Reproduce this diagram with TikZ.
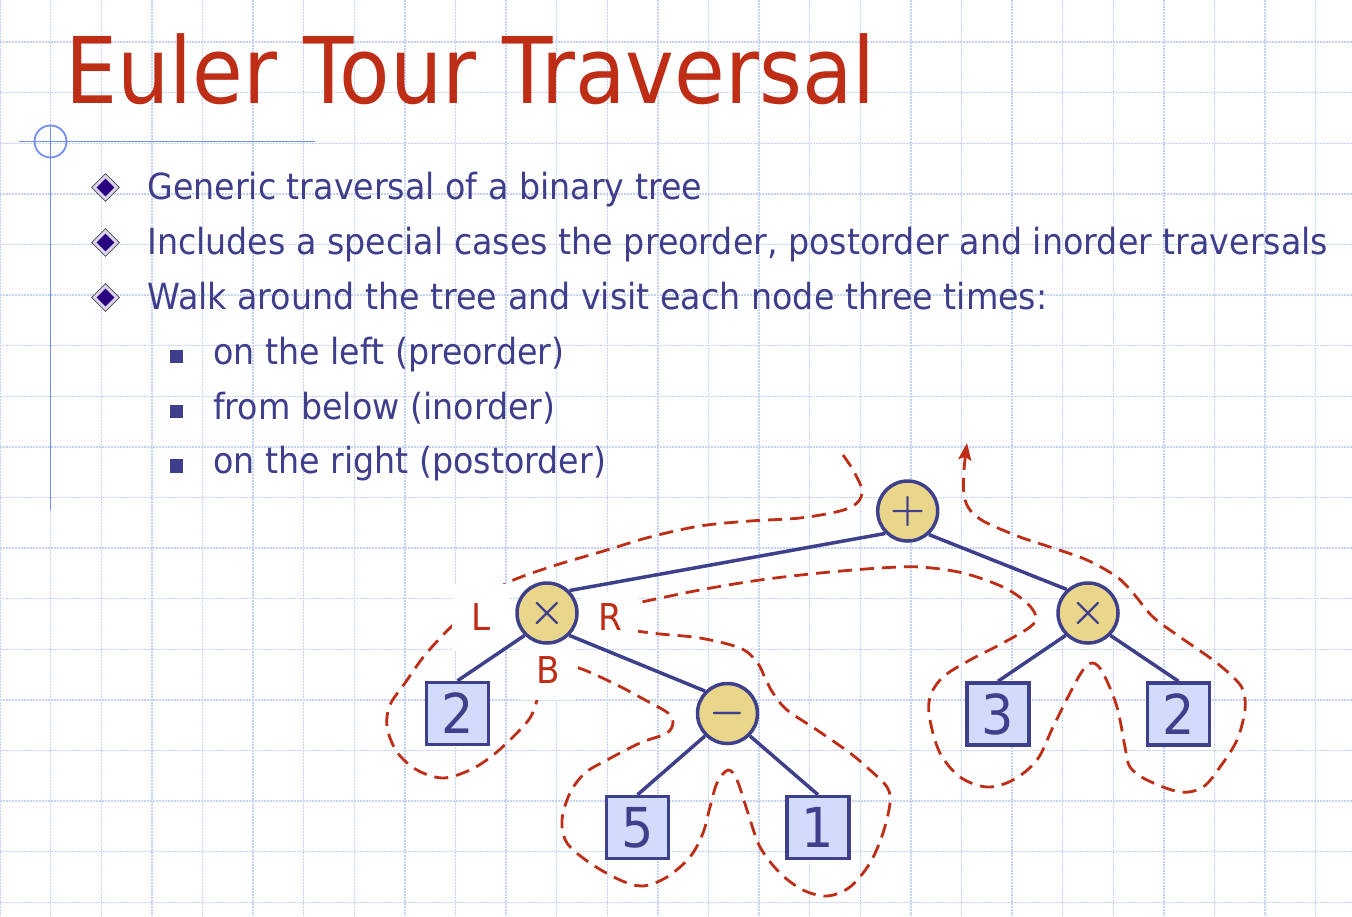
\RequirePackage{fix-cm}
\documentclass[tikz,border=0pt]{standalone}
\usepackage[no-math]{fontspec}
\setmainfont{DejaVu Sans}[FakeStretch=0.925]
\newfontfamily\titlefont{DejaVu Sans}[FakeStretch=0.897]
\usetikzlibrary{arrows.meta,shapes.geometric}

\definecolor{titlered}{RGB}{190,46,22}
\definecolor{textblue}{RGB}{62,62,140}
\definecolor{bulletdark}{RGB}{40,0,128}
\definecolor{bulletring}{RGB}{218,212,238}
\definecolor{treeblue}{RGB}{62,64,140}
\definecolor{opfill}{RGB}{234,214,138}
\definecolor{leaffill}{RGB}{208,220,250}
\definecolor{tourred}{RGB}{190,46,22}
\definecolor{gridblue}{RGB}{196,210,248}
\definecolor{decoblue}{RGB}{115,142,245}

\tikzset{
  gridline/.style={gridblue, line width=1.4pt, dash pattern=on 1.5pt off 1.5pt},
  decoline/.style={decoblue, line width=1.8pt},
  bodytext/.style={anchor=base west, inner sep=0pt, text=textblue, font=\fontsize{36}{43}\selectfont},
  mainbullet/.style={diamond, aspect=1, inner sep=0pt, minimum width=28pt, minimum height=28pt,
    fill=bulletring, draw=black!70, line width=0.7pt},
  mainbulletcore/.style={diamond, aspect=1, inner sep=0pt, minimum width=18pt, minimum height=18pt,
    fill=bulletdark},
  subbullet/.style={rectangle, inner sep=0pt, minimum size=13.5pt, fill=textblue},
  opnode/.style={circle, draw=treeblue, line width=3.5pt, fill=opfill, minimum size=60pt,
    inner sep=0pt, text=treeblue, font=\boldmath\fontsize{40}{40}\selectfont},
  leaf/.style={rectangle, draw=treeblue, line width=3.5pt, fill=leaffill, minimum size=62pt,
    inner sep=0pt, text=treeblue, font=\fontsize{55}{55}\selectfont},
  edge/.style={treeblue, line width=3.5pt},
  tour/.style={tourred, line width=2.8pt, dash pattern=on 14pt off 8pt,
    -{Stealth[length=17pt,width=13pt,inset=3pt]}},
  tourlabel/.style={rectangle, fill=white, inner sep=0pt, text=tourred,
    font=\fontsize{37}{37}\selectfont}
}

\begin{document}
\begin{tikzpicture}[x=1pt,y=-1pt]
\useasboundingbox (0,0) rectangle (1352,916);
\fill[white] (0,0) rectangle (1352,916);

% background grid
\foreach \k in {0,...,26}
  \draw[gridline] ({50.6*\k},0) -- ({50.6*\k},916);
\foreach \k in {0,...,17}
  \draw[gridline] (0,{42+50.6*\k}) -- (1352,{42+50.6*\k});

% corner ornament
\draw[decoline] (19,141.5) -- (315,141.5);
\draw[decoline] (50.5,125) -- (50.5,510);
\draw[decoline] (50.5,141.5) circle[radius=16pt];

% title
\node[anchor=base west, inner sep=0pt, text=titlered,
      font=\titlefont\fontsize{92}{110}\selectfont] (title) at (65,103.3) {Euler Tour Traversal};

% bullet list
\foreach \y/\n in {187.5/b1, 242.5/b2, 297.5/b3} {
  \node[mainbullet] (\n) at (105.5,\y) {};
  \node[mainbulletcore] at (\n) {};
}
\node[bodytext] (t1) at (147,199.3) {Generic traversal of a binary tree};
\node[bodytext] (t2) at (147,254.3) {Includes a special cases the preorder, postorder and inorder traversals};
\node[bodytext] (t3) at (147,309.3) {Walk around the tree and visit each node three times:};

\foreach \y/\n in {356.7/s1, 411.4/s2, 466.1/s3}
  \node[subbullet] (\n) at (176.3,\y) {};
\node[bodytext] (u1) at (213,364.3) {on the left (preorder)};
\node[bodytext] (u2) at (213,419) {from below (inorder)};
\node[bodytext] (u3) at (213,473.7) {on the right (postorder)};

% Euler tour around the expression tree
\draw[tour] plot[smooth, tension=0.55] coordinates {
  (843,455) (853,470) (862,490) (857,503) (840,511) (800,518) (750,521) (700,526)
  (650,537) (607,550) (550,567) (507,583) (480,603) (452,626) (425,655) (405,683)
  (390,705) (387,727) (397,752) (417,770) (443,778) (470,770) (492,756) (513,737)
  (530,718) (537,700) (541,682) (552,670) (575,667) (613,683) (647,701) (668,713)
  (673,722) (667,733) (640,743) (607,760) (585,773) (570,793) (562,820) (567,843)
  (590,863) (620,880) (643,886) (667,877) (690,857) (703,833) (710,807) (717,783)
  (728,770) (737,780) (748,813) (760,847) (780,873) (803,890) (827,896) (850,887)
  (870,863) (883,833) (890,803) (887,787) (870,770) (850,753) (817,730) (787,710)
  (773,693) (766,680) (757,662) (740,648) (700,638) (660,634) (637,631) (615,626)
  (606,617) (615,608) (637,603) (700,590) (760,580) (820,573) (880,568) (920,567)
  (963,573) (1003,587) (1027,603) (1036,617) (1030,627) (1003,643) (970,660) (943,677)
  (930,697) (930,720) (940,753) (960,777) (987,787) (1013,780) (1037,760) (1053,727)
  (1070,693) (1083,670) (1093,663) (1103,673) (1117,707) (1125,747) (1130,767) (1147,780)
  (1180,792) (1203,787) (1220,767) (1237,740) (1245,710) (1243,690) (1233,677) (1213,660)
  (1180,637) (1153,617) (1133,593) (1117,577) (1087,560) (1050,547) (1020,537) (985,522)
  (970,510) (964,495) (964,470) (967,443)
};

% visit labels
\node[tourlabel, minimum width=58pt, minimum height=66pt] (labL) at (481,617) {L};
\node[tourlabel, minimum width=56pt, minimum height=50pt] (labR) at (610,617) {R};
\node[tourlabel, minimum width=56pt, minimum height=60pt] (labB) at (548,670) {B};

% expression tree
\node[opnode] (root)  at (907.7,511) {$+$};
\node[opnode] (timesL) at (547,613) {$\times$};
\node[opnode] (timesR) at (1088,613) {$\times$};
\node[opnode] (minus) at (727.5,713.5) {$-$};
\node[leaf] (leafA) at (457.5,713.5) {2};
\node[leaf] (leafB) at (637.5,827.5) {5};
\node[leaf] (leafC) at (818,827.5) {1};
\node[leaf] (leafD) at (998,714) {3};
\node[leaf] (leafE) at (1178.5,714) {2};

\draw[edge] (timesL.45) -- (root.225);
\draw[edge] (root.-48) -- (timesR.132);
\draw[edge] (timesL.225) -- (leafA.north);
\draw[edge] (timesL.-45) -- (minus.135);
\draw[edge] (minus.225) -- (leafB.north);
\draw[edge] (minus.-45) -- (leafC.north);
\draw[edge] (timesR.225) -- (leafD.north);
\draw[edge] (timesR.-45) -- (leafE.north);
\end{tikzpicture}
\end{document}
